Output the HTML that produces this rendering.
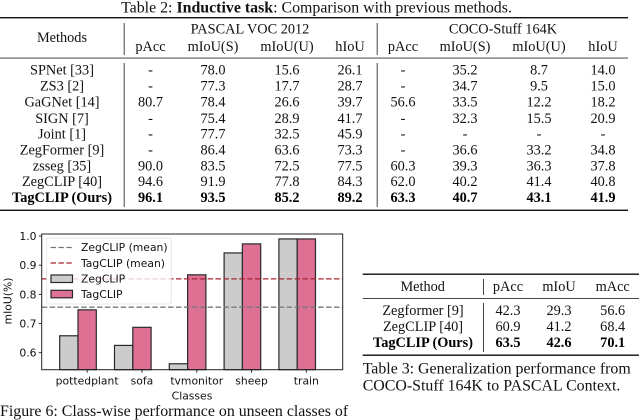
<!DOCTYPE html>
<html lang="en">
<head>
<meta charset="utf-8">
<title>Inductive task comparison</title>
<style>
html,body{margin:0;padding:0;background:#fff;}
svg{display:block;filter:blur(0.35px);}
.t{font-family:"Liberation Serif",serif;font-size:14.3px;fill:#111;text-anchor:middle;}
.b{font-weight:bold;fill:#000;}
.c{font-family:"Liberation Serif",serif;font-size:15.9px;fill:#111;}
.m{font-family:"DejaVu Sans",sans-serif;font-size:10.8px;fill:#111;}
</style>
</head>
<body>
<svg id="page" xmlns="http://www.w3.org/2000/svg" width="640" height="420" viewBox="0 0 640 420">
<rect width="640" height="420" fill="#fff"/>

<g>
<text class="c" x="316.5" y="12.5" text-anchor="middle">Table 2: <tspan font-weight="bold">Inductive task</tspan>: Comparison with previous methods.</text>
<rect x="0" y="17" width="628" height="1.4" fill="#111"/>
<rect x="0" y="57.6" width="628" height="0.9" fill="#333"/>
<rect x="0" y="209.6" width="628" height="1.4" fill="#111"/>
<rect x="123.7" y="23" width="1" height="32" fill="#444"/>
<rect x="376.7" y="23" width="1" height="32" fill="#444"/>
<rect x="123.7" y="63" width="1" height="144" fill="#444"/>
<rect x="376.7" y="63" width="1" height="144" fill="#444"/>

<g>
<text class="t" x="62" y="42">Methods</text>
<text class="t" x="250" y="33.5">PASCAL VOC 2012</text>
<text class="t" x="503" y="33.5">COCO-Stuff 164K</text>
<text class="t" x="150.5" y="51">pAcc</text>
<text class="t" x="213" y="51">mIoU(S)</text>
<text class="t" x="287" y="51">mIoU(U)</text>
<text class="t" x="350" y="51">hIoU</text>
<text class="t" x="403" y="51">pAcc</text>
<text class="t" x="465" y="51">mIoU(S)</text>
<text class="t" x="539" y="51">mIoU(U)</text>
<text class="t" x="603" y="51">hIoU</text>
</g>

<g>
<text class="t" x="62" y="74.5">SPNet [33]</text>
<text class="t" x="150.5" y="74.5">-</text>
<text class="t" x="213" y="74.5">78.0</text>
<text class="t" x="287" y="74.5">15.6</text>
<text class="t" x="350" y="74.5">26.1</text>
<text class="t" x="403" y="74.5">-</text>
<text class="t" x="465" y="74.5">35.2</text>
<text class="t" x="539" y="74.5">8.7</text>
<text class="t" x="603" y="74.5">14.0</text>
</g>
<g>
<text class="t" x="62" y="90.5">ZS3 [2]</text>
<text class="t" x="150.5" y="90.5">-</text>
<text class="t" x="213" y="90.5">77.3</text>
<text class="t" x="287" y="90.5">17.7</text>
<text class="t" x="350" y="90.5">28.7</text>
<text class="t" x="403" y="90.5">-</text>
<text class="t" x="465" y="90.5">34.7</text>
<text class="t" x="539" y="90.5">9.5</text>
<text class="t" x="603" y="90.5">15.0</text>
</g>
<g>
<text class="t" x="62" y="106.5">GaGNet [14]</text>
<text class="t" x="150.5" y="106.5">80.7</text>
<text class="t" x="213" y="106.5">78.4</text>
<text class="t" x="287" y="106.5">26.6</text>
<text class="t" x="350" y="106.5">39.7</text>
<text class="t" x="403" y="106.5">56.6</text>
<text class="t" x="465" y="106.5">33.5</text>
<text class="t" x="539" y="106.5">12.2</text>
<text class="t" x="603" y="106.5">18.2</text>
</g>
<g>
<text class="t" x="62" y="123">SIGN [7]</text>
<text class="t" x="150.5" y="123">-</text>
<text class="t" x="213" y="123">75.4</text>
<text class="t" x="287" y="123">28.9</text>
<text class="t" x="350" y="123">41.7</text>
<text class="t" x="403" y="123">-</text>
<text class="t" x="465" y="123">32.3</text>
<text class="t" x="539" y="123">15.5</text>
<text class="t" x="603" y="123">20.9</text>
</g>
<g>
<text class="t" x="62" y="138.5">Joint [1]</text>
<text class="t" x="150.5" y="138.5">-</text>
<text class="t" x="213" y="138.5">77.7</text>
<text class="t" x="287" y="138.5">32.5</text>
<text class="t" x="350" y="138.5">45.9</text>
<text class="t" x="403" y="138.5">-</text>
<text class="t" x="465" y="138.5">-</text>
<text class="t" x="539" y="138.5">-</text>
<text class="t" x="603" y="138.5">-</text>
</g>
<g>
<text class="t" x="62" y="154.5">ZegFormer [9]</text>
<text class="t" x="150.5" y="154.5">-</text>
<text class="t" x="213" y="154.5">86.4</text>
<text class="t" x="287" y="154.5">63.6</text>
<text class="t" x="350" y="154.5">73.3</text>
<text class="t" x="403" y="154.5">-</text>
<text class="t" x="465" y="154.5">36.6</text>
<text class="t" x="539" y="154.5">33.2</text>
<text class="t" x="603" y="154.5">34.8</text>
</g>
<g>
<text class="t" x="62" y="170.5">zsseg [35]</text>
<text class="t" x="150.5" y="170.5">90.0</text>
<text class="t" x="213" y="170.5">83.5</text>
<text class="t" x="287" y="170.5">72.5</text>
<text class="t" x="350" y="170.5">77.5</text>
<text class="t" x="403" y="170.5">60.3</text>
<text class="t" x="465" y="170.5">39.3</text>
<text class="t" x="539" y="170.5">36.3</text>
<text class="t" x="603" y="170.5">37.8</text>
</g>
<g>
<text class="t" x="62" y="186">ZegCLIP [40]</text>
<text class="t" x="150.5" y="186">94.6</text>
<text class="t" x="213" y="186">91.9</text>
<text class="t" x="287" y="186">77.8</text>
<text class="t" x="350" y="186">84.3</text>
<text class="t" x="403" y="186">62.0</text>
<text class="t" x="465" y="186">40.2</text>
<text class="t" x="539" y="186">41.4</text>
<text class="t" x="603" y="186">40.8</text>
</g>
<g>
<text class="t b" x="62" y="202">TagCLIP (Ours)</text>
<text class="t b" x="150.5" y="202">96.1</text>
<text class="t b" x="213" y="202">93.5</text>
<text class="t b" x="287" y="202">85.2</text>
<text class="t b" x="350" y="202">89.2</text>
<text class="t b" x="403" y="202">63.3</text>
<text class="t b" x="465" y="202">40.7</text>
<text class="t b" x="539" y="202">43.1</text>
<text class="t b" x="603" y="202">41.9</text>
</g>
</g>

<g id="chart"></g>

<text class="c" x="0" y="416">Figure 6: Class-wise performance on unseen classes of</text>

<g>
<rect x="362.7" y="273.5" width="276.3" height="1.4" fill="#111"/>
<rect x="362.7" y="298" width="276.3" height="0.9" fill="#333"/>
<rect x="362.7" y="354.5" width="276.3" height="1.4" fill="#111"/>
<rect x="483" y="279" width="1" height="16" fill="#444"/>
<rect x="483" y="303" width="1" height="49" fill="#444"/>
<text class="t" x="422.7" y="291">Method</text>
<text class="t" x="508" y="291">pAcc</text>
<text class="t" x="559" y="291">mIoU</text>
<text class="t" x="612.7" y="291">mAcc</text>
<g>
<text class="t" x="423" y="315">Zegformer [9]</text>
<text class="t" x="508" y="315">42.3</text>
<text class="t" x="559" y="315">29.3</text>
<text class="t" x="612.7" y="315">56.6</text>
</g>
<g>
<text class="t" x="423" y="331">ZegCLIP [40]</text>
<text class="t" x="508" y="331">60.9</text>
<text class="t" x="559" y="331">41.2</text>
<text class="t" x="612.7" y="331">68.4</text>
</g>
<g>
<text class="t b" x="423" y="347">TagCLIP (Ours)</text>
<text class="t b" x="508" y="347">63.5</text>
<text class="t b" x="559" y="347">42.6</text>
<text class="t b" x="612.7" y="347">70.1</text>
</g>
<text class="c" x="362.7" y="373.5">Table 3: Generalization performance from</text>
<text class="c" x="362.7" y="390.5">COCO-Stuff 164K to PASCAL Context.</text>
</g>
</svg>

<script>
const categories = ['pottedplant', 'sofa', 'tvmonitor', 'sheep', 'train'];
const zegclipValues = [0.658, 0.625, 0.562, 0.942, 0.99];
const tagclipValues = [0.747, 0.687, 0.867, 0.973, 0.99];
const zegclipMean = [0.756];
const tagclipMean = [0.853];
const yTicks = [0.6, 0.7, 0.8, 0.9, 1.0];
const yTickLabels = ['0.6', '0.7', '0.8', '0.9', '1.0'];

const NS = 'http://www.w3.org/2000/svg';
const chart = document.getElementById('chart');
const plot = {left: 41.7, right: 342.7, top: 234, bottom: 369.7};
const ZEG_FILL = '#cccccc';
const TAG_FILL = '#dd7093';
const EDGE = '#2a2a2a';

function yScale(v) { return 352.7 - (v - 0.6) * 291.7; }
function xCenter(i) { return 78 + i * 54.8; }

function make(tag, attrs, text) {
  const el = document.createElementNS(NS, tag);
  for (const k in attrs) el.setAttribute(k, attrs[k]);
  if (text !== undefined) el.textContent = text;
  chart.appendChild(el);
  return el;
}

categories.forEach(function (cat, i) {
  const c = xCenter(i);
  const w = 18.3;
  const tickX = c + w / 2;
  const zegBar = make('rect', {x: c - w, y: yScale(zegclipValues[i]), width: w, height: plot.bottom - yScale(zegclipValues[i]), fill: ZEG_FILL, stroke: EDGE, 'stroke-width': 1.2});
  
  
  const tagBar = make('rect', {x: c, y: yScale(tagclipValues[i]), width: w, height: plot.bottom - yScale(tagclipValues[i]), fill: TAG_FILL, stroke: EDGE, 'stroke-width': 1.2});
  
  
  const tick = make('line', {x1: tickX, x2: tickX, y1: plot.bottom, y2: plot.bottom + 3, stroke: '#222', 'stroke-width': 0.9});
  
  
  const label = make('text', {class: 'm', x: tickX, y: 384.7, 'text-anchor': 'middle'}, cat);
  
  
});

const zegMeanLine = make('line', {x1: plot.left, x2: plot.right, y1: yScale(zegclipMean[0]), y2: yScale(zegclipMean[0]), stroke: '#777', 'stroke-width': 1.3, 'stroke-dasharray': '5.5 2.4'});


const tagMeanLine = make('line', {x1: plot.left, x2: plot.right, y1: yScale(tagclipMean[0]), y2: yScale(tagclipMean[0]), stroke: '#a82532', 'stroke-width': 1.3, 'stroke-dasharray': '5.5 2.4'});



yTicks.forEach(function (t, i) {
  const tick = make('line', {x1: plot.left - 3, x2: plot.left, y1: yScale(t), y2: yScale(t), stroke: '#222', 'stroke-width': 0.9});
  
  
  const label = make('text', {class: 'm', x: 36.5, y: yScale(t) + 4, 'text-anchor': 'end'}, yTickLabels[i]);
  
  
});

const frame = make('rect', {x: plot.left, y: plot.top, width: plot.right - plot.left, height: plot.bottom - plot.top, fill: 'none', stroke: '#222', 'stroke-width': 1});



const yTitle = make('text', {class: 'm', x: 0, y: 0, 'text-anchor': 'middle', transform: 'translate(11.5 301) rotate(-90)'}, 'mIoU(%)');


const xTitle = make('text', {class: 'm', x: 192, y: 399.5, 'text-anchor': 'middle'}, 'Classes');



const legendBox = make('rect', {x: 46.7, y: 238, width: 124.5, height: 66, rx: 1.5, fill: '#fff', 'fill-opacity': 0.8, stroke: '#ddd', 'stroke-width': 0.7});



const legendLine1 = make('line', {x1: 50.5, x2: 72, y1: 247.5, y2: 247.5, stroke: '#777', 'stroke-width': 1.3, 'stroke-dasharray': '5.5 2.4'});


const legendText1 = make('text', {class: 'm', x: 81, y: 251.2}, 'ZegCLIP (mean)');


const legendLine2 = make('line', {x1: 50.5, x2: 72, y1: 263, y2: 263, stroke: '#a82532', 'stroke-width': 1.3, 'stroke-dasharray': '5.5 2.4'});


const legendText2 = make('text', {class: 'm', x: 81, y: 266.9}, 'TagCLIP (mean)');


const legendPatch1 = make('rect', {x: 51, y: 275, width: 21.5, height: 7.5, fill: ZEG_FILL, stroke: EDGE, 'stroke-width': 1.2});


const legendText3 = make('text', {class: 'm', x: 81, y: 282.6}, 'ZegCLIP');


const legendPatch2 = make('rect', {x: 51, y: 290.3, width: 21.5, height: 7.5, fill: TAG_FILL, stroke: EDGE, 'stroke-width': 1.2});


const legendText4 = make('text', {class: 'm', x: 81, y: 298}, 'TagCLIP');


</script>
</body>
</html>
